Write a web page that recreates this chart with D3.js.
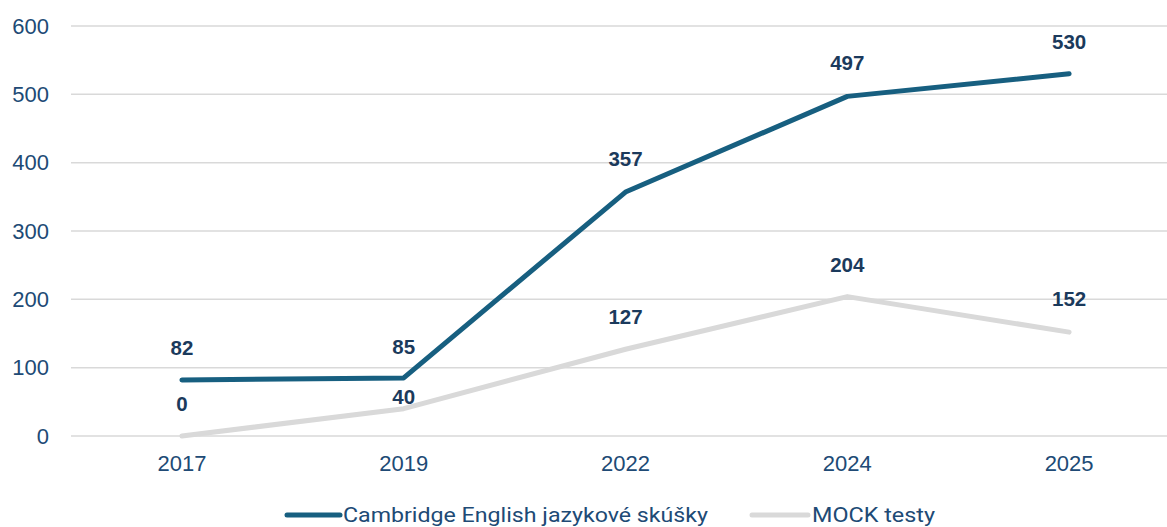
<!DOCTYPE html>
<html><head><meta charset="utf-8">
<script src="https://cdn.jsdelivr.net/npm/d3@7"></script>
<style>
html,body{margin:0;padding:0;background:#fff;overflow:hidden}
svg{display:block}
</style></head>
<body>
<svg id="chart" width="1167" height="527"></svg>
<script>
const years = ["2017","2019","2022","2024","2025"];
const cambridge = [82, 85, 357, 497, 530];
const mock = [0, 40, 127, 204, 152];
const seriesNames = ["Cambridge English jazykové skúšky", "MOCK testy"];
const yTicks = [0,100,200,300,400,500,600];

const W = 1167, H = 527;
const svg = d3.select("#chart");
const x = d3.scaleBand().domain(years).range([71, 1180]);
const y = d3.scaleLinear().domain([0, 600]).range([436, 26]);
const cx = d => x(d) + x.bandwidth()/2;

const textColor = "#204a75";
const labelColor = "#1b3a5c";
const colors = ["#175f80", "#d9d9d9"];
const baseFont = "'Liberation Sans', Arial, sans-serif";

// gridlines
svg.append("g").selectAll("line").data(yTicks).join("line")
  .attr("x1", 71).attr("x2", 1180)
  .attr("y1", d => y(d)).attr("y2", d => y(d))
  .attr("stroke", "#d9d9d9").attr("stroke-width", 1.5);

// y axis
const yAxis = d3.axisLeft(y).tickValues(yTicks).tickSize(0).tickPadding(0);
const gy = svg.append("g").attr("transform", "translate(49,0)").call(yAxis);
gy.select(".domain").remove();
gy.selectAll("text").attr("fill", textColor).style("font-family", baseFont).style("font-size", "22px");

// x axis
const xAxis = d3.axisBottom(x).tickSize(0).tickPadding(0);
const gx = svg.append("g").attr("transform", "translate(0,455)").call(xAxis);
gx.select(".domain").remove();
gx.selectAll("text").attr("fill", textColor).style("font-family", baseFont).style("font-size", "22px");

const line = d3.line().x((d,i) => cx(years[i])).y(d => y(d));
const series = [cambridge, mock];
[1,0].forEach(s => {
  svg.append("path").datum(series[s]).attr("d", line)
    .attr("fill", "none").attr("stroke", colors[s]).attr("stroke-width", 5)
    .attr("stroke-linecap", "round").attr("stroke-linejoin", "round");
});

// data labels
const labelOffset = [[-25,-24,-26,-26,-25],[-25,-5,-25,-25,-26]];
series.forEach((vals, s) => {
  svg.append("g").selectAll("text").data(vals).join("text")
    .attr("x", (d,i) => cx(years[i]))
    .attr("y", (d,i) => y(d) + labelOffset[s][i])
    .attr("text-anchor", "middle")
    .attr("fill", labelColor)
    .style("font-family", baseFont)
    .style("font-size", "20.5px").style("font-weight", "bold")
    .text(d => d);
});

// legend
const legendFont = "Roboto, 'Liberation Sans', sans-serif";
const leg = [{x1:287, x2:340, tx:343, w:365}, {x1:752, x2:808, tx:812, w:123}];
leg.forEach((l, i) => {
  svg.append("line").attr("x1", l.x1).attr("x2", l.x2).attr("y1", 515).attr("y2", 515)
    .attr("stroke", colors[i]).attr("stroke-width", 5).attr("stroke-linecap", "round");
  svg.append("text").attr("x", l.tx).attr("y", 522)
    .attr("fill", textColor)
    .attr("textLength", l.w).attr("lengthAdjust", "spacingAndGlyphs")
    .style("font-family", legendFont).style("font-size", "20px")
    .text(seriesNames[i]);
});
</script>
</body></html>
